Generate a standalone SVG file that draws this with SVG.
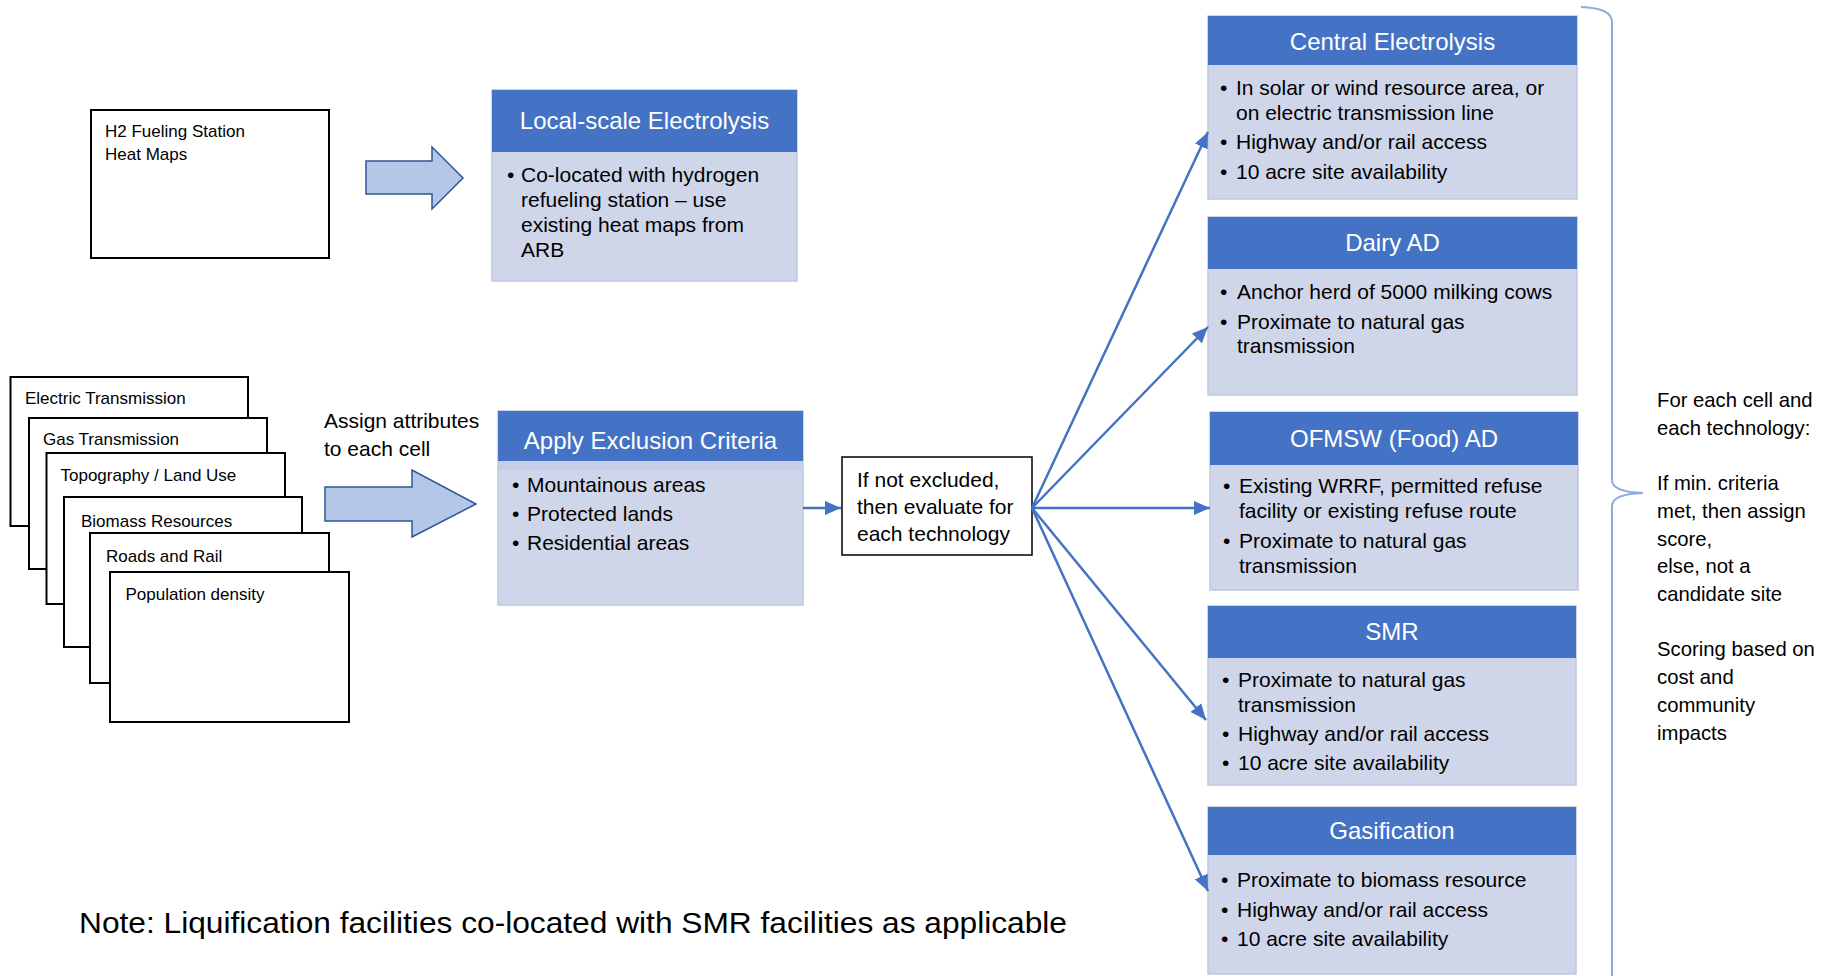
<svg xmlns="http://www.w3.org/2000/svg" width="1829" height="976" viewBox="0 0 1829 976">
<style>
text{font-family:"Liberation Sans",Arial,sans-serif;fill:#000}
.sm{font-size:17px}
.bd{font-size:21px}
.rt{font-size:20.3px}
.tt{font-size:24px;fill:#fff;text-anchor:middle}
.hdr{fill:#4472C4}
.body{fill:#D0D6EA;stroke:#BFC7DF;stroke-width:1.5}
.wbox{fill:#fff;stroke:#000;stroke-width:2}
.blk{fill:#B4C7E7;stroke:#2F5597;stroke-width:1.5;stroke-linejoin:miter}
.con{stroke:#4472C4;stroke-width:2.5;fill:none}
</style>
<defs>
<marker id="ah" markerUnits="userSpaceOnUse" markerWidth="18" markerHeight="14" refX="16" refY="7" orient="auto">
<path d="M0,0 L16,7 L0,14 Z" fill="#4472C4"/>
</marker>
</defs>
<rect width="1829" height="976" fill="#fff"/>

<g id="h2-heatmaps">
<rect class="wbox" x="91" y="110" width="238" height="148"/>
<text class="sm" x="105" y="137">H2 Fueling Station</text>
<text class="sm" x="105" y="160">Heat Maps</text>
</g>

<g id="local-electrolysis">
<rect class="body" x="492" y="90" width="305" height="191"/>
<rect class="hdr" x="492" y="90" width="305" height="62"/>
<text class="tt" x="644.5" y="129">Local-scale Electrolysis</text>
<text class="bd" x="507" y="182">•</text>
<text class="bd" x="521" y="182">Co-located with hydrogen</text>
<text class="bd" x="521" y="207">refueling station – use</text>
<text class="bd" x="521" y="232">existing heat maps from</text>
<text class="bd" x="521" y="257">ARB</text>
</g>

<g id="layer-stack">
<g id="layer-electric"><rect class="wbox" x="10.5" y="377" width="237.5" height="149"/><text class="sm" x="25" y="404">Electric Transmission</text></g>
<g id="layer-gas"><rect class="wbox" x="29" y="418" width="238" height="151"/><text class="sm" x="43" y="445">Gas Transmission</text></g>
<g id="layer-topo"><rect class="wbox" x="46.5" y="453" width="238.5" height="151"/><text class="sm" x="60.5" y="481">Topography / Land Use</text></g>
<g id="layer-biomass"><rect class="wbox" x="64" y="497" width="238" height="150"/><text class="sm" x="81" y="527">Biomass Resources</text></g>
<g id="layer-roads"><rect class="wbox" x="90" y="533" width="239" height="150"/><text class="sm" x="106" y="562">Roads and Rail</text></g>
<g id="layer-population"><rect class="wbox" x="110" y="572" width="239" height="150"/><text class="sm" x="125.5" y="600">Population density</text></g>
</g>

<g id="assign-label">
<text class="bd" x="324" y="428">Assign attributes</text>
<text class="bd" x="324" y="456">to each cell</text>
</g>

<g id="exclusion">
<rect class="body" x="498" y="411" width="305" height="194"/>
<rect class="hdr" x="498" y="411" width="305" height="50"/>
<rect x="499" y="461" width="303" height="9" fill="#C6CDE6"/>
<text class="tt" x="650.5" y="449">Apply Exclusion Criteria</text>
<text class="bd" x="512" y="492">•</text>
<text class="bd" x="527" y="492">Mountainous areas</text>
<text class="bd" x="512" y="521">•</text>
<text class="bd" x="527" y="521">Protected lands</text>
<text class="bd" x="512" y="550">•</text>
<text class="bd" x="527" y="550">Residential areas</text>
</g>

<g id="evaluate">
<rect x="842" y="457" width="190" height="98" fill="#fff" stroke="#000" stroke-width="1.5"/>
<text class="bd" x="857" y="487">If not excluded,</text>
<text class="bd" x="857" y="514">then evaluate for</text>
<text class="bd" x="857" y="541">each technology</text>
</g>

<g id="central-electrolysis">
<rect class="body" x="1208" y="16" width="369" height="183"/>
<rect class="hdr" x="1208" y="16" width="369" height="49"/>
<text class="tt" x="1392.5" y="50">Central Electrolysis</text>
<text class="bd" x="1220" y="95">•</text>
<text class="bd" x="1236" y="95">In solar or wind resource area, or</text>
<text class="bd" x="1236" y="120">on electric transmission line</text>
<text class="bd" x="1220" y="149">•</text>
<text class="bd" x="1236" y="149">Highway and/or rail access</text>
<text class="bd" x="1220" y="179">•</text>
<text class="bd" x="1236" y="179">10 acre site availability</text>
</g>

<g id="dairy-ad">
<rect class="body" x="1208" y="217" width="369" height="178"/>
<rect class="hdr" x="1208" y="217" width="369" height="52"/>
<text class="tt" x="1392.5" y="251">Dairy AD</text>
<text class="bd" x="1220" y="299">•</text>
<text class="bd" x="1237" y="299">Anchor herd of 5000 milking cows</text>
<text class="bd" x="1220" y="329">•</text>
<text class="bd" x="1237" y="329">Proximate to natural gas</text>
<text class="bd" x="1237" y="353">transmission</text>
</g>

<g id="ofmsw-ad">
<rect class="body" x="1210" y="412" width="368" height="178"/>
<rect class="hdr" x="1210" y="412" width="368" height="53"/>
<text class="tt" x="1394" y="447">OFMSW (Food) AD</text>
<text class="bd" x="1223" y="493">•</text>
<text class="bd" x="1239" y="493">Existing WRRF, permitted refuse</text>
<text class="bd" x="1239" y="518">facility or existing refuse route</text>
<text class="bd" x="1223" y="548">•</text>
<text class="bd" x="1239" y="548">Proximate to natural gas</text>
<text class="bd" x="1239" y="573">transmission</text>
</g>

<g id="smr">
<rect class="body" x="1208" y="606" width="368" height="179"/>
<rect class="hdr" x="1208" y="606" width="368" height="52"/>
<text class="tt" x="1392" y="640">SMR</text>
<text class="bd" x="1222" y="687">•</text>
<text class="bd" x="1238" y="687">Proximate to natural gas</text>
<text class="bd" x="1238" y="712">transmission</text>
<text class="bd" x="1222" y="741">•</text>
<text class="bd" x="1238" y="741">Highway and/or rail access</text>
<text class="bd" x="1222" y="770">•</text>
<text class="bd" x="1238" y="770">10 acre site availability</text>
</g>

<g id="gasification">
<rect class="body" x="1208" y="807" width="368" height="167"/>
<rect class="hdr" x="1208" y="807" width="368" height="48"/>
<text class="tt" x="1392" y="839">Gasification</text>
<text class="bd" x="1221" y="887">•</text>
<text class="bd" x="1237" y="887">Proximate to biomass resource</text>
<text class="bd" x="1221" y="917">•</text>
<text class="bd" x="1237" y="917">Highway and/or rail access</text>
<text class="bd" x="1221" y="946">•</text>
<text class="bd" x="1237" y="946">10 acre site availability</text>
</g>

<g id="brace">
<path d="M1581,7 Q1612,8 1612,22 L1612,480 Q1612,492 1643,493 Q1612,494 1612,506 L1612,976" fill="none" stroke="#8FAADC" stroke-width="2"/>
</g>

<g id="scoring-note">
<text class="rt" x="1657" y="407">For each cell and</text>
<text class="rt" x="1657" y="435">each technology:</text>
<text class="rt" x="1657" y="490">If min. criteria</text>
<text class="rt" x="1657" y="518">met, then assign</text>
<text class="rt" x="1657" y="546">score,</text>
<text class="rt" x="1657" y="573">else, not a</text>
<text class="rt" x="1657" y="601">candidate site</text>
<text class="rt" x="1657" y="656">Scoring based on</text>
<text class="rt" x="1657" y="684">cost and</text>
<text class="rt" x="1657" y="712">community</text>
<text class="rt" x="1657" y="740">impacts</text>
</g>

<g id="footnote">
<text x="79" y="933" font-size="30" textLength="988" lengthAdjust="spacingAndGlyphs">Note: Liquification facilities co-located with SMR facilities as applicable</text>
</g>

<g id="connectors">
<polygon class="blk" points="366,161 432,161 432,147 463,178 432,209 432,194 366,194"/>
<polygon class="blk" points="325,487 412,487 412,470 476,504 412,537 412,521 325,521"/>
<line class="con" x1="803" y1="508" x2="841" y2="508" marker-end="url(#ah)"/>
<line class="con" x1="1032" y1="508" x2="1208" y2="132" marker-end="url(#ah)"/>
<line class="con" x1="1032" y1="508" x2="1208" y2="327" marker-end="url(#ah)"/>
<line class="con" x1="1032" y1="508" x2="1210" y2="508" marker-end="url(#ah)"/>
<line class="con" x1="1032" y1="508" x2="1206" y2="720" marker-end="url(#ah)"/>
<line class="con" x1="1032" y1="508" x2="1208" y2="891" marker-end="url(#ah)"/>
</g>
</svg>
